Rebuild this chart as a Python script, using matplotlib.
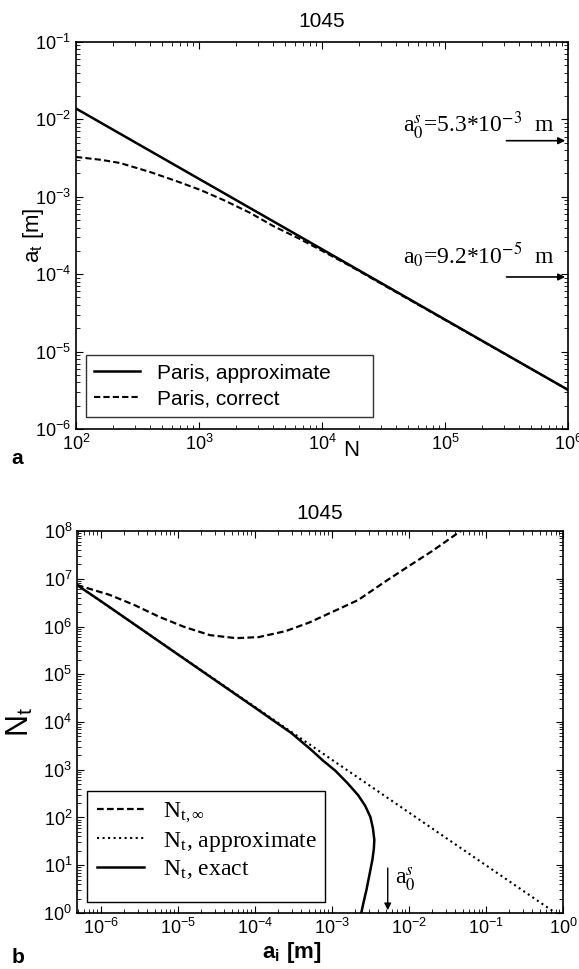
import numpy as np
import matplotlib
matplotlib.use('Agg')
import matplotlib.pyplot as plt
from matplotlib.patches import Rectangle

plt.rcParams['font.family'] = ['Liberation Sans', 'DejaVu Sans']
plt.rcParams['mathtext.fontset'] = 'stix'

# panel a: crack size vs cycles
N_approx = [1e2, 1e6]
a_approx = [1.38e-2, 3.2e-6]
N_correct = [1e2, 160, 228, 400, 650, 1020, 1600, 2600, 4000, 6600, 1.1e4, 1.67e4, 1e6]
a_correct = [3.27e-3, 3.0e-3, 2.73e-3, 2.09e-3, 1.6e-3, 1.23e-3, 9.0e-4, 6.2e-4, 4.2e-4,
             2.85e-4, 1.85e-4, 1.29e-4, 3.2e-6]
a0s = 5.3e-3
a0 = 9.2e-5

# panel b: cycles vs initial crack size
ai_inf = [4.9e-7, 1.3e-6, 2.75e-6, 5.7e-6, 1.21e-5, 2.6e-5, 5.7e-5, 1.12e-4, 2.5e-4, 5e-4,
          1e-3, 2.2e-3, 5e-3, 1e-2, 2e-2, 4.7e-2]
Nt_inf = [7.4e6, 4.6e6, 2.8e6, 1.6e6, 9.8e5, 6.6e5, 5.7e5, 6.0e5, 8.0e5, 1.2e6,
          2.0e6, 3.6e6, 8.9e6, 1.85e7, 3.8e7, 1e8]
ai_apx = [4.9e-7, 0.8]
Nt_apx = [7.4e6, 1.0]
ai_ex = [4.9e-7, 1e-6, 1e-5, 1e-4, 3e-4, 5.4e-4, 7.5e-4, 1.11e-3, 1.6e-3, 2.2e-3, 2.7e-3,
         3.16e-3, 3.4e-3, 3.55e-3, 3.5e-3, 3.35e-3, 3.05e-3, 2.8e-3, 2.6e-3, 2.4e-3]
Nt_ex = [7.4e6, 3.4e6, 2.6e5, 2.0e4, 5.8e3, 2.6e3, 1.6e3, 950, 520, 290, 176,
         102, 60, 34, 22, 13, 6, 3, 1.8, 1]

fig = plt.figure(figsize=(5.79, 9.69), dpi=100)

# ---- top panel
ax1 = fig.add_axes([0.1313, 0.5573, 0.8497, 0.3994])
ax1.loglog(N_approx, a_approx, 'k-', lw=1.8, label='Paris, approximate      ')
ax1.loglog(N_correct, a_correct, 'k--', lw=1.5, dashes=(3, 1.5), label='Paris, correct')
ax1.set_xlim(1e2, 1e6)
ax1.set_ylim(1e-6, 1e-1)
ax1.set_title('1045', fontsize=15, pad=11)
ax1.set_xlabel('N', fontsize=16)
ax1.xaxis.set_label_coords(0.559, -0.028)
ax1.set_ylabel('a$_\\mathregular{t}$ [m]', fontsize=16)
ax1.yaxis.set_label_coords(-0.061, 0.5)
ax1.legend(loc='lower left', fontsize=15, frameon=True, fancybox=False, edgecolor='k',
           handlelength=2.2, labelspacing=0.33, borderpad=0.4, borderaxespad=0,
           bbox_to_anchor=(0.02, 0.031))

for val, txt, ty in [(a0s, 'a$_0^s$=5.3*10$^{-3}$  m', 1.27), (a0, 'a$_0$=9.2*10$^{-5}$  m', 1.45)]:
    ax1.annotate('', xy=(1e6, val), xytext=(3e5, val),
                 arrowprops=dict(arrowstyle='-|>', color='k', lw=1.2, mutation_scale=10))
    ax1.text(7.8e5, val * ty, txt, fontsize=17, family='Liberation Serif',
             ha='right', va='baseline')

# ---- bottom panel
ax2 = fig.add_axes([0.133, 0.0578, 0.8394, 0.3942])
ax2.loglog(ai_inf, Nt_inf, 'k--', lw=1.6, dashes=(3, 1.5), label='N$_{\\mathregular{t,\\infty}}$')
ax2.loglog(ai_apx, Nt_apx, 'k:', lw=1.5, label='N$_\\mathregular{t}$, approximate')
ax2.loglog(ai_ex, Nt_ex, 'k-', lw=1.8, label='N$_\\mathregular{t}$, exact')
ax2.set_xlim(4.9e-7, 1e0)
ax2.set_ylim(1e0, 1e8)
ax2.set_title('1045', fontsize=15, pad=9)
ax2.set_xlabel('a$_\\mathregular{i}$ [m]', fontsize=16, fontweight='bold')
ax2.xaxis.set_label_coords(0.442, -0.071)
ax2.set_ylabel('N$_\\mathregular{t}$', fontsize=22)
ax2.yaxis.set_label_coords(-0.085, 0.5)
# legend text without frame, MATLAB-like box drawn separately
ax2.legend(loc='upper left', prop={'family': 'Liberation Serif', 'size': 17}, frameon=False,
           handlelength=2.0, labelspacing=0.2, borderaxespad=0,
           bbox_to_anchor=(0.021, 0.319))
ax2.add_patch(Rectangle((0.021, 0.029), 0.489, 0.29, transform=ax2.transAxes,
                        fill=False, edgecolor='k', lw=1.0, zorder=5))

ax2.annotate('', xy=(a0s, 1.0), xytext=(a0s, 10.0),
             arrowprops=dict(arrowstyle='-|>', color='k', lw=1.0, mutation_scale=10))
ax2.text(a0s * 1.25, 5.0, 'a$_0^s$', fontsize=17, family='Liberation Serif', ha='left', va='center')

for ax in (ax1, ax2):
    ax.tick_params(which='both', direction='in', top=True, right=True, labelsize=13)
    ax.tick_params(which='major', length=5)
    ax.tick_params(which='minor', length=3)
    for s in ax.spines.values():
        s.set_linewidth(1.2)

fig.text(0.02, 0.527, 'a', fontsize=15, fontweight='bold', va='center')
fig.text(0.02, 0.0114, 'b', fontsize=15, fontweight='bold', va='center')

fig.savefig('out.png', dpi=100)
